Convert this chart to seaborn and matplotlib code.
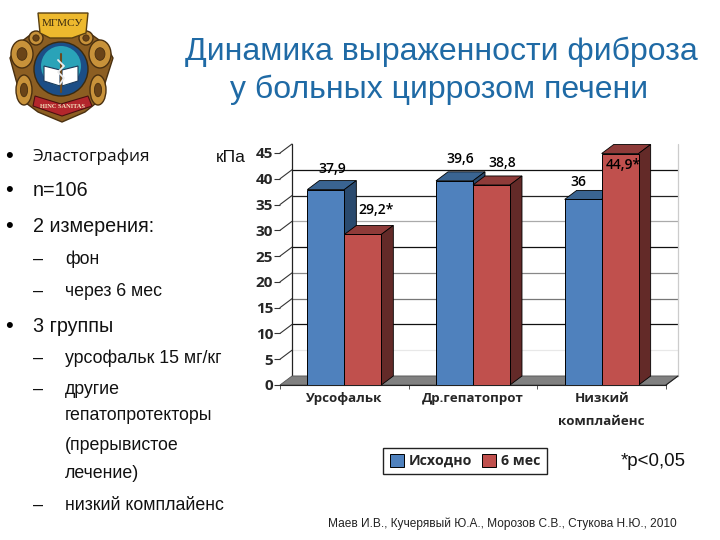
import matplotlib
matplotlib.use('Agg')
import matplotlib.pyplot as plt
from matplotlib.patches import Polygon, Circle, Ellipse
import seaborn as sns
import pandas as pd

# data
groups = ['Урсофальк', 'Др.гепатопрот', 'Низкий\nкомплайенс']
baseline = [37.9, 39.6, 36]
month6 = [29.2, 38.8, 44.9]
y_ticks = [0, 5, 10, 15, 20, 25, 30, 35, 40, 45]
series_names = ['Исходно', '6 мес']
marks = ['', '', '', '*', '', '*']

title_lines = ['Динамика выраженности фиброза', 'у больных циррозом печени']

# text on the left: (text, level, y in px)
bullets = [('Эластография', 0, 157), ('n=106', 0, 190), ('2 измерения:', 0, 226),
           ('фон', 1, 259), ('через 6 мес', 1, 291), ('3 группы', 0, 326),
           ('урсофальк 15 мг/кг', 1, 358), ('другие', 1, 389),
           ('гепатопротекторы', 2, 416), ('(прерывистое', 2, 445), ('лечение)', 2, 473),
           ('низкий комплайенс', 1, 505)]

sns.set_style('white')
plt.rcParams['font.family'] = ['Liberation Sans', 'DejaVu Sans']

BOLD = 'Open Sans'
BLUE, RED = '#4F81BD', '#C0504D'
DEPTH_X, DEPTH_Y = 12, 9  # 3d depth, px

fig = plt.figure(figsize=(7.2, 5.4), dpi=100)
ax = fig.add_axes([280 / 720, (540 - 385) / 540, 386 / 720, 232 / 540])

df = pd.DataFrame({'group': groups * 2,
                   'value': baseline + month6,
                   'series': [series_names[0]] * 3 + [series_names[1]] * 3})
sns.barplot(data=df, x='group', y='value', hue='series', palette=[BLUE, RED], width=0.575,
            gap=0, saturation=1, edgecolor='black', linewidth=0.7, ax=ax, zorder=5)
ax.set_xlim(-0.5, 2.5)
ax.set_ylim(0, 45)
ax.set_xlabel('')
ax.set_ylabel('')

dx = DEPTH_X / 386 * 3
dy = DEPTH_Y / 232 * 45

# back wall, floor, grid
grid_colors = ['#888888', '#e8e8e8', '#111111', '#777777', '#888888', '#111111',
               '#aaaaaa', '#222222', '#111111']
ax.add_patch(Polygon([(-0.5, 0), (2.5, 0), (2.5 + dx, dy), (-0.5 + dx, dy)], closed=True,
                     fc='#808080', ec='#555555', lw=0.6, clip_on=False, zorder=2))
for t, c in zip(y_ticks[:-1], grid_colors):
    ax.plot([-0.5 + dx, 2.5 + dx], [t + dy, t + dy], color=c, lw=0.9, clip_on=False, zorder=1)
for t in y_ticks[1:]:
    ax.plot([-0.5, -0.5 + dx], [t, t + dy], color='#333333', lw=0.8, clip_on=False, zorder=1)
ax.plot([-0.5 + dx] * 2, [dy, 45 + dy], color='#222222', lw=0.9, clip_on=False, zorder=1)
ax.plot([2.5 + dx] * 2, [dy, 45 + dy], color='#cccccc', lw=0.9, clip_on=False, zorder=1)
ax.plot([2.5, 2.5 + dx], [0, dy], color='#222222', lw=0.8, clip_on=False, zorder=3)

# 3d faces of the bars, built from the bars themselves
shades = [('#3A6491', '#2A4A6E'), ('#8E3B39', '#632A28')]
n = 0
for container, (top_c, side_c) in zip(ax.containers, shades):
    for bar in container:
        x0, x1, h = bar.get_x(), bar.get_x() + bar.get_width(), bar.get_height()
        order = 6 + n * 0.01 if container is ax.containers[0] else 7 + n * 0.01
        ax.add_patch(Polygon([(x0, h), (x1, h), (x1 + dx, h + dy), (x0 + dx, h + dy)], closed=True,
                             fc=top_c, ec='black', lw=0.6, clip_on=False, zorder=order))
        ax.add_patch(Polygon([(x1, 0), (x1 + dx, dy), (x1 + dx, h + dy), (x1, h)], closed=True,
                             fc=side_c, ec='black', lw=0.6, clip_on=False, zorder=order))
        bar.set_zorder(order + 0.005)
        n += 1

# value labels, px offsets from the bar centre/top
label_shift = [(6, 21), (6, 22), (-5, 17), (13, 24), (11, 22), (3, -11)]
all_bars = list(ax.containers[0]) + list(ax.containers[1])
for bar, v, mk, (sx, sy) in zip(all_bars, baseline + month6, marks, label_shift):
    ax.annotate(f'{v:g}'.replace('.', ',') + mk,
                (bar.get_x() + bar.get_width() / 2, bar.get_height()),
                xytext=(sx * 0.72, sy * 0.72), textcoords='offset points', ha='center', va='center',
                fontsize=10, fontweight='semibold', family=BOLD, color='black', zorder=20)

# axes
sns.despine(ax=ax, left=True, right=True, top=True)
ax.spines['bottom'].set_linewidth(0.8)
ax.spines['bottom'].set_color('#222222')
ax.spines['bottom'].set_zorder(4)
ax.set_yticks(y_ticks)
ax.set_xticks([0, 1, 2])
ax.set_xticklabels(groups, linespacing=2.0)
ax.set_xticks([-0.5, 0.5, 1.5, 2.5], minor=True)
ax.tick_params(axis='y', left=True, length=4, width=0.8, color='#333333', pad=1)
ax.tick_params(axis='x', which='major', length=0, pad=5)
ax.tick_params(axis='x', which='minor', bottom=True, length=3, width=0.7, color='#555555')
for lab in ax.get_yticklabels():
    lab.set(fontfamily=BOLD, fontweight='bold', fontsize=11)
for lab in ax.get_xticklabels():
    lab.set(fontfamily=BOLD, fontweight='bold', fontsize=9.6)

sns.move_legend(ax, 'center', bbox_to_anchor=(465 / 720, (540 - 461) / 540),
                bbox_transform=fig.transFigure, ncol=2, title=None, frameon=True,
                prop={'family': BOLD, 'weight': 'bold', 'size': 10.2}, fancybox=False,
                edgecolor='#222222', framealpha=1, handlelength=1.0, handleheight=1.0,
                handletextpad=0.35, columnspacing=0.7, borderpad=0.45)
ax.get_legend().set_zorder(30)

# overlay in pixel coordinates for slide text and crest
ov = fig.add_axes([0, 0, 1, 1], zorder=-1)
ov.set_xlim(0, 720)
ov.set_ylim(540, 0)
ov.axis('off')

ov.text(441, 52, title_lines[0], ha='center', va='center', fontsize=23, color='#1F6AA5')
ov.text(439, 90, title_lines[1], ha='center', va='center', fontsize=23, color='#1F6AA5')

for txt, level, y in bullets:
    if level == 0:
        ov.text(5, y, '•', va='center', fontsize=16, color='black')
        if txt == 'Эластография':
            ov.text(33, y, txt, va='center', fontsize=12.4, family=BOLD, color='#111111')
        else:
            ov.text(33, y, txt, va='center', fontsize=14.2, color='#111111')
    elif level == 1:
        ov.text(33, y, '–', va='center', fontsize=13, color='#111111')
        ov.text(65, y, txt, va='center', fontsize=12.8, color='#111111')
    else:
        ov.text(65, y, txt, va='center', fontsize=12.8, color='#111111')

ov.text(216, 157, 'кПа', va='center', fontsize=12.6, color='#111111')
ov.text(621, 461, '*p<0,05', va='center', fontsize=13.4, color='#111111')
ov.text(328, 524, 'Маев И.В., Кучерявый Ю.А., Морозов С.В., Стукова Н.Ю., 2010',
        va='center', fontsize=8.55, color='#222222')

# crest
ov.add_patch(Polygon([(61, 30), (88, 32), (106, 45), (113, 58), (106, 80), (100, 100), (85, 112),
                      (62, 122), (38, 112), (22, 100), (16, 80), (10, 58), (17, 45), (34, 32)],
                     closed=True, fc='#8C5E22', ec='#4A3010', lw=1))
for cx, cy, w, h in [(22, 54, 22, 28), (100, 54, 22, 28), (24, 90, 16, 30), (98, 90, 16, 30),
                     (36, 38, 14, 14), (86, 38, 14, 14)]:
    ov.add_patch(Ellipse((cx, cy), w, h, fc='#C8923A', ec='#4A3010', lw=1))
    ov.add_patch(Ellipse((cx, cy), w * 0.45, h * 0.45, fc='#6A4418', ec='#4A3010', lw=0.6))
ov.add_patch(Polygon([(38, 13), (88, 13), (86, 33), (72, 38), (50, 38), (40, 33)], closed=True,
                     fc='#EDB92E', ec='#5A4010', lw=1))
ov.text(62, 23, 'МГМСУ', ha='center', va='center', fontsize=8, family='Liberation Serif', color='#3A2A10')
ov.add_patch(Circle((61, 69), 27, fc='#1C4E86', ec='#3A2A10', lw=1))
ov.add_patch(Circle((61, 66), 20, fc='#2AA3B8', ec='none'))
ov.add_patch(Polygon([(44, 66), (60, 70), (60, 86), (44, 81)], closed=True, fc='white', ec='#1C3A5A', lw=0.8))
ov.add_patch(Polygon([(78, 66), (62, 70), (62, 86), (78, 81)], closed=True, fc='white', ec='#1C3A5A', lw=0.8))
ov.plot([61, 61], [54, 92], color='#6B4A20', lw=1.5)
ov.plot([58, 64, 58, 64, 60], [60, 66, 72, 78, 84], color='#EDEDED', lw=1.3)
ov.add_patch(Polygon([(35, 96), (61, 104), (88, 96), (92, 106), (62, 116), (33, 106)], closed=True,
                     fc='#B3262C', ec='#4A1010', lw=0.8))
ov.text(62, 106, 'HINC SANITAS', ha='center', va='center', fontsize=4.6, family='Liberation Serif',
        color='#F3E4C0', fontweight='bold')

fig.savefig('out.png', dpi=100)
